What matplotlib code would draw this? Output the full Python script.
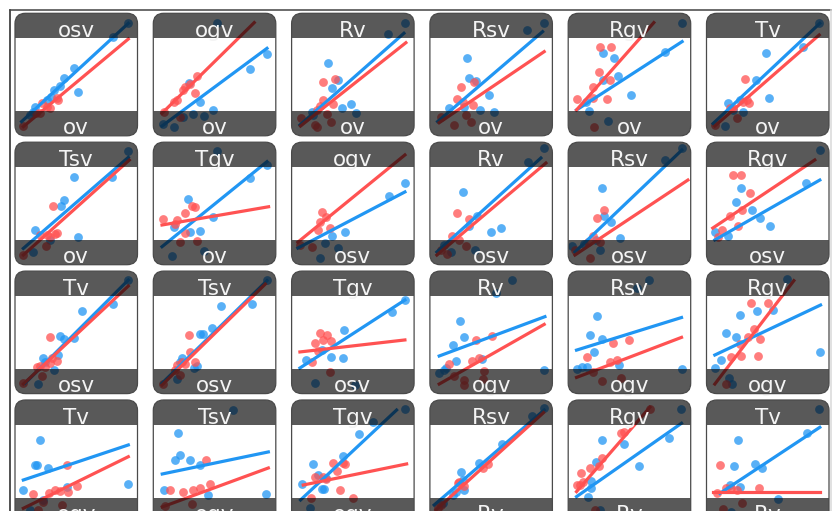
import numpy as np
import matplotlib
matplotlib.use("Agg")
import matplotlib.pyplot as plt
from matplotlib.patches import FancyBboxPatch, Rectangle
from matplotlib.lines import Line2D

# panel labels (y variable on top, x variable at the bottom)
y_labels = ["osv", "ogv", "Rv", "Rsv", "Rgv", "Tv",
            "Tsv", "Tgv", "ogv", "Rv", "Rsv", "Rgv",
            "Tv", "Tsv", "Tgv", "Rv", "Rsv", "Rgv",
            "Tv", "Tsv", "Tgv", "Rsv", "Rgv", "Tv"]
x_labels = ["ov", "ov", "ov", "ov", "ov", "ov",
            "ov", "ov", "osv", "osv", "osv", "osv",
            "osv", "osv", "osv", "ogv", "ogv", "ogv",
            "ogv", "ogv", "ogv", "Rv", "Rv", "Rv"]

# scaled values (0-100 within each panel)
blue_x = [
    [92, 79.7, 48.2, 40.3, 51.7, 31.8, 36.7, 29.1, 25.9, 16.3, 15, 12.2],
    [52, 92.8, 79.2, 37.8, 48.7, 41.1, 32.4, 24.2, 16.6, 7.6, 28.8],
    [92.5, 78.9, 29.9, 38.1, 32.7, 40.8, 48.2, 52.5, 16.3, 17.7],
    [92.8, 79.2, 30.2, 32.1, 37.6, 48.4, 28, 41.1, 52.5, 15.8],
    [92.5, 78.9, 28, 37.3, 40.8, 28.6, 50.9, 14.4, 17.1, 32.1],
    [91.7, 78.9, 48.2, 40.3, 51.2, 17.7, 27.2, 29.9, 15, 21.8],
    [92, 79.5, 48.2, 40.3, 37.6, 16.3, 51.7, 15, 28.6],
    [52, 92.8, 79.2, 28.3, 48.7, 16.6, 30.2, 37.8, 15.2, 41.1],
    [92.9, 79.8, 43.5, 32.9, 23.1, 37.8, 27.2],
    [93, 80, 26.9, 38.4, 31.8, 49.8, 58, 11.4, 17.1, 36.7],
    [92.8, 79, 27.5, 29.1, 34.9, 22.6, 42.2, 3, 12.8, 25.9],
    [92.5, 81.1, 28, 23.9, 37, 43.5, 6.8, 17.4, 51.7],
    [92, 80.3, 55, 36.7, 40.3, 48.2, 35.4, 23.1, 24.5, 31.8, 19],
    [92.8, 80.5, 55.2, 47.9, 38.4, 40.5, 23.4, 22, 32.9, 35.6, 19.3],
    [92.5, 81.9, 42.7, 24.7, 32.1, 41.9, 11.7, 19, 51.7],
    [66.7, 53.9, 24.5, 27.5, 18.5, 21.2, 13.1, 11.2, 7.6, 42.2, 92.8],
    [66.1, 55.8, 23.9, 17.7, 27.2, 21, 15, 10.9, 6.8, 41.6, 92.5],
    [65.9, 92.5, 54.4, 41.6, 27.2, 15.8, 23.7, 12.2, 6.8, 18.5, 21.2],
    [20.4, 16.3, 17.7, 27.2, 6.8, 42.2, 92.5, 23.1, 12.2],
    [65.3, 20.4, 22, 18, 30.2, 38.4, 9, 92.2, 44.9],
    [92.5, 66.7, 55, 41.6, 17.7, 21.8, 27.8, 24.5, 26.7, 8.2, 15],
    [92.8, 83, 58.5, 39.7, 25.3, 26.7, 18.5, 21.2, 28, 10.3],
    [91.7, 82.4, 58, 45.4, 27.2, 22.6, 19, 19, 16.3, 25.9],
    [92, 82.2, 25.9, 39.5, 45.4, 22.3, 19, 27.2, 58.5, 20.4],
]
blue_y = [
    [92.4, 81, 55, 47.2, 35.5, 37.4, 40.7, 32, 29.3, 23.3, 19.7, 17],
    [92.4, 66.5, 54.6, 27.9, 21.1, 16.5, 17.6, 15.1, 6.9, 9.4, 42.9],
    [92.4, 82.9, 59.2, 45.6, 39.3, 23, 26, 18.9, 19.7, 17],
    [92.4, 86.4, 63.3, 47, 44.8, 33.3, 23.8, 21.1, 19.7, 22.4],
    [92.4, 68.7, 67.3, 63.3, 48.8, 45.6, 33.3, 27.9, 20.3, 12.4],
    [92.4, 72.8, 67.3, 45.6, 30.6, 26.5, 29.3, 19.7, 8, 21.1],
    [92.8, 71.8, 71.3, 52.8, 47.9, 28.3, 22.9, 10.6, 20.1],
    [92.8, 81.4, 71, 53.3, 38.6, 31, 26.9, 27.8, 7.3, 11.4],
    [66.5, 56, 26.7, 23.4, 5.5, 13.6, 17.7],
    [95.3, 83.8, 59.3, 39.8, 31.6, 26.7, 30, 16.1, 10.4, 12],
    [95.3, 85.5, 62.6, 39.8, 34.9, 20.2, 21.8, 15.3, 16.9, 12],
    [93.6, 66.5, 62.4, 51, 44.7, 38.1, 26.7, 23.4, 31.6],
    [92.7, 72.9, 67.4, 47.3, 44.3, 45.7, 31.5, 28.8, 26.1, 19.3, 7.8],
    [92.7, 72.9, 71.8, 53.3, 48.7, 48.7, 28.8, 26.1, 20.6, 22.5, 11.6],
    [76.4, 66.6, 51.8, 35.6, 29.9, 29.1, 27.4, 8.7, 7],
    [92.7, 82.4, 59.3, 46, 39.7, 26.7, 20.7, 19.3, 16.5, 28.2, 19.3],
    [92.7, 85.9, 63.3, 47.8, 44.5, 34.2, 22, 21.4, 19.8, 23.3, 20],
    [93.2, 33.7, 68.3, 67.4, 64.2, 49.7, 45.9, 27.4, 20.6, 12.5, 7.9],
    [67.3, 46.9, 46.9, 44.5, 26.5, 29, 31.2, 18.4, 10.2],
    [92.2, 73.1, 55.1, 51, 51, 46.9, 26.5, 23.3, 22.4],
    [92.4, 82.3, 72, 54.3, 47.8, 38.8, 36.1, 27.1, 27.6, 31.4, 11.6],
    [93.2, 86.9, 64, 48.2, 41.4, 34.7, 22.4, 25.2, 26.5, 15.6],
    [92.4, 68.7, 46.1, 64.1, 67.3, 49.7, 34.1, 27.9, 21.1, 10.2],
    [92.4, 73.3, 67.3, 47.8, 44.2, 46.1, 30.6, 29.3, 18.9, 8.8],
]
red_x = [
    [21.8, 25.9, 28.6, 34, 35.4, 20.4, 17.1, 6.8],
    [35.6, 30.2, 26.1, 24.2, 34.3, 19.3, 16.6, 8.4, 22],
    [25.9, 35.4, 25.9, 34, 23.1, 20.4, 28.6, 7.3, 19, 20.4, 31.8],
    [25.3, 35.6, 22, 26.7, 34.8, 9, 19.9, 29.4, 33.5],
    [25.9, 34.8, 25.3, 34, 19.9, 20.4, 31.3, 7.3, 21.2],
    [31.8, 32.7, 34.8, 29.4, 21.8, 19, 24.5, 6.8],
    [31.3, 20.4, 25.9, 32.7, 34.6, 28.6, 25.3, 6.8],
    [31.6, 34.3, 26.1, 7.9, 19.3, 18, 25.6, 22, 35.6],
    [24.7, 28, 23.1, 21.5, 31.3, 16.6, 6.8],
    [22, 31.8, 18, 23.7, 9, 13.9, 29.4],
    [23.4, 29.1, 20.2, 16.1, 25.9, 5.5, 17.7],
    [21.5, 28, 35.3, 28.8, 19, 25.6, 12.5, 9.2],
    [28.6, 20.4, 24.5, 28.6, 29.9, 34, 17.7, 21.8, 6.8],
    [28.8, 30.2, 34.3, 19.3, 23.4, 26.1, 18, 22, 7.9],
    [23.1, 28.8, 25.6, 32.1, 19, 21.5, 16.6, 31.3],
    [50.3, 37.6, 15.8, 34, 39.7, 43.8, 28, 27.5, 43, 19.9],
    [36.7, 49.8, 15, 34, 39.5, 27.2, 43.5, 20.4],
    [36.7, 50.3, 38.6, 43.5, 34, 27.2, 27.8, 42.2, 19.6, 15.8],
    [42.2, 14.9, 28, 32.7, 36.7, 43.5, 50.9, 23.1, 19, 38.1],
    [43.3, 13.9, 24.5, 32.7, 38.4, 46.5, 9.8, 31.8],
    [34, 42.2, 43.5, 37.3, 25.9, 28, 19, 39.5, 15.5, 50.3],
    [47.1, 43, 23.9, 27.5, 22.6, 9, 6.3],
    [66.7, 43, 45.4, 27.2, 25.3, 17.7, 10.1, 12.2, 6.8, 9.5, 21.8],
    [10.9, 16.3, 20.4, 24.5, 8.2, 43, 28.6, 13.6],
]
red_y = [
    [26.5, 23.3, 22.4, 30.6, 29.3, 18.4, 18.9, 8],
    [48.8, 42.6, 39.6, 37.4, 34.7, 29.3, 27.9, 19.7, 15.6],
    [43.7, 46.4, 29.3, 26, 24.4, 21.1, 17.6, 14.3, 8.8, 7.5, 11],
    [39.6, 44.2, 30.1, 27.9, 25.2, 15.6, 8.8, 17, 11.6],
    [72.8, 72.8, 52.4, 45.6, 39.6, 30.6, 30.1, 29.8, 7.5],
    [46.4, 29.3, 26.5, 27.9, 22.4, 22.4, 14.3, 8.8],
    [47.9, 24.2, 24.2, 25, 25.6, 22.9, 15.2, 7.9],
    [47.9, 47.3, 42.4, 37, 36.5, 33.2, 25.6, 18.8, 19.6],
    [42.9, 38.8, 34.7, 28.2, 29.8, 14.4, 16],
    [42.2, 37.3, 23.4, 20.2, 12, 8.7, 15.3],
    [38.1, 44.7, 23.4, 18.5, 18.5, 12, 5.5],
    [73.2, 73.2, 58.5, 44.7, 39.8, 31.6, 28.3, 22.6],
    [46.5, 22.5, 22, 25.3, 28.8, 26.9, 21.4, 14.4, 8.9],
    [47.9, 34.2, 26.1, 23.4, 26.1, 24.2, 19.3, 15.2, 7.8],
    [49.5, 47.8, 43.8, 42.9, 41.3, 34.8, 25.8, 17.6],
    [47, 43.7, 24.1, 26.9, 28.8, 18.8, 11.1, 7, 11.6, 14.4],
    [41, 43.7, 30.1, 26, 27.4, 10.5, 12.4, 17.4],
    [73.7, 73.7, 52.5, 44.3, 45.9, 40.5, 30.7, 30.7, 29.6, 7.8],
    [46.9, 23.3, 24.1, 26.5, 26, 25.1, 30, 17, 10.2, 14.3],
    [51, 26.5, 24.9, 26.5, 28.2, 31.4, 13.5, 15.1],
    [48.3, 48.3, 47.8, 42.3, 36.9, 35.2, 36.9, 26.5, 19.7, 19.7],
    [47.8, 44.2, 33.3, 29.8, 32, 14.3, 11.6],
    [92.4, 73.3, 73.6, 52.4, 46.1, 44.2, 40.1, 33.3, 30.6, 30.6, 10.2],
    [47, 27.9, 27.9, 26.5, 23.8, 27.9, 15.6, 10.9],
]
# fitted lines: x0, y0, x1, y1
blue_fit = [
    [5.4, 11.6, 92.5, 91.8], [7.1, 8, 92.8, 71.4], [6.8, 8.8, 91.7, 83.7],
    [6.3, 11.6, 92, 85], [6.8, 21.1, 93, 76.9], [5.4, 10, 92.5, 91.8],
    [6.8, 13.3, 92.5, 87.6], [7.1, 14.7, 92.8, 84.1], [5.1, 13.6, 92.5, 59.4],
    [5.7, 10.4, 90.6, 87.1], [5.5, 10.4, 92.8, 93.6], [6.8, 20.2, 92.5, 69.1],
    [8.2, 8.4, 92.5, 92.7], [7.1, 8.4, 92.8, 92.2], [6.8, 20.9, 92.5, 76.4],
    [7.6, 30.7, 93.9, 62.8], [6.8, 35.5, 92.5, 62.1], [6.8, 31.5, 93.1, 72.3],
    [6.8, 34.7, 92.5, 63.3], [7.3, 39.6, 93.9, 57.6], [7.3, 18.4, 85.7, 91.8],
    [3.5, 14.3, 93.3, 91.8], [6.8, 21.1, 92.5, 81], [10.9, 23.8, 92.5, 77.7],
]
red_fit = [
    [6.8, 7.5, 92.5, 79], [7.1, 18.4, 82.4, 92.4], [7.3, 8, 93.3, 76],
    [7.6, 10.7, 93.3, 68.7], [6.8, 21.1, 69.9, 92.4], [6.8, 8, 92, 82.3],
    [6.8, 7.9, 93.3, 85.4], [7.1, 32.4, 94.1, 47.3], [5.1, 18.4, 92.5, 89.6],
    [5.7, 7.9, 94.7, 83], [5.5, 7.9, 97.7, 69.1], [5.1, 29.9, 88.4, 85.5],
    [6.8, 7.8, 92.5, 87.8], [7.1, 7, 91.4, 89.4], [6.8, 34, 92.5, 43.8],
    [7.6, 7.8, 93.3, 56.5], [6.8, 13.2, 92.5, 45.9], [6.8, 7.8, 71.3, 92.2],
    [6.8, 11.6, 92.5, 53.7], [7.3, 12.7, 93.9, 44.5], [9.5, 30.6, 93.9, 47.8],
    [4.9, 10.2, 92.8, 89.7], [6.8, 25.2, 66.7, 94.1], [5.4, 25.2, 92.5, 25.2],
]

BLUE = "#2196f3"
RED = "#ff5252"
W, H = 840, 511

fig = plt.figure(figsize=(W / 100, H / 100), dpi=100)

# page frame
fig.add_artist(Line2D([9.5 / W, 9.5 / W], [0, 1 - 10 / H], color="#222222", lw=1.1))
fig.add_artist(Line2D([9.5 / W, 831 / W], [1 - 10 / H, 1 - 10 / H], color="#444444", lw=1.1))
fig.add_artist(Line2D([831 / W, 831 / W], [0, 1 - 10 / H], color="#d8d8d8", lw=1.1))

size = 122.5
for i in range(24):
    r, c = divmod(i, 6)
    left = 15 + 138.3 * c
    top = 13.3 + 128.9 * r
    ax = fig.add_axes([left / W, 1 - (top + size) / H, size / W, size / H])
    ax.set_xlim(0, 100)
    ax.set_ylim(0, 100)
    ax.axis("off")

    box = dict(boxstyle="round,pad=0,rounding_size=8.5")
    bg = FancyBboxPatch((0, 0), 100, 100, facecolor="white", edgecolor="none",
                        transform=ax.transData, clip_on=False, zorder=0, **box)
    ax.add_patch(bg)
    clip = FancyBboxPatch((0, 0), 100, 100, transform=ax.transData, **box)

    sb = ax.scatter(blue_x[i], blue_y[i], s=40, color=BLUE, alpha=0.75,
                    linewidths=0, zorder=2)
    sr = ax.scatter(red_x[i], red_y[i], s=40, color=RED, alpha=0.75,
                    linewidths=0, zorder=2)
    bf = blue_fit[i]
    rf = red_fit[i]
    lb, = ax.plot([bf[0], bf[2]], [bf[1], bf[3]], color=BLUE, lw=2.3, zorder=3)
    lr, = ax.plot([rf[0], rf[2]], [rf[1], rf[3]], color=RED, lw=2.3, zorder=3)
    for a in (sb, sr, lb, lr):
        a.set_clip_path(clip)

    # header / footer strips
    head = Rectangle((0, 80), 100, 20, facecolor="black", alpha=0.65,
                     edgecolor="none", zorder=4)
    foot = Rectangle((0, 0), 100, 20, facecolor="black", alpha=0.65,
                     edgecolor="none", zorder=4)
    ax.add_patch(head)
    ax.add_patch(foot)
    head.set_clip_path(clip)
    foot.set_clip_path(clip)

    th = ax.text(50, 80.3, y_labels[i], ha="center", va="baseline", fontsize=15.5,
                 color="#f4f4f4", zorder=5)
    th.set_clip_path(Rectangle((0, 80), 100, 20, transform=ax.transData))
    tf = ax.text(50, 1.3, x_labels[i], ha="center", va="baseline", fontsize=15.5,
                 color="#f4f4f4", zorder=5)
    tf.set_clip_path(Rectangle((0, 0), 100, 20, transform=ax.transData))

    edge = FancyBboxPatch((0, 0), 100, 100, facecolor="none", edgecolor="#4a4a4a",
                          lw=0.9, transform=ax.transData, clip_on=False, zorder=6, **box)
    ax.add_patch(edge)

fig.savefig("out.png", dpi=100)
